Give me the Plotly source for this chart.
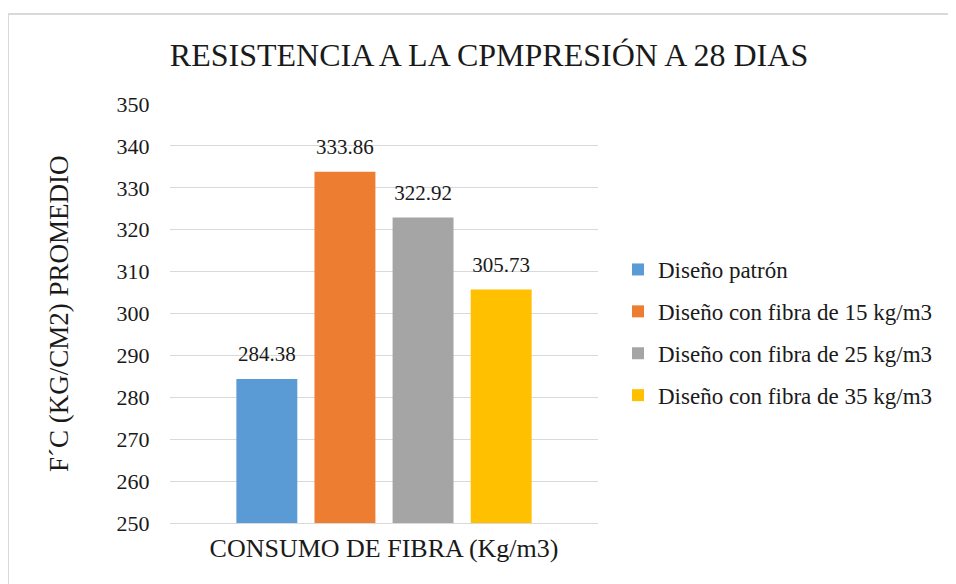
import plotly.graph_objects as go

category = ["CONSUMO DE FIBRA (Kg/m3)"]
series_names = [
    "Diseño patrón",
    "Diseño con fibra de 15 kg/m3",
    "Diseño con fibra de 25 kg/m3",
    "Diseño con fibra de 35 kg/m3",
]
series_values = [284.38, 333.86, 322.92, 305.73]
colors = ["#5B9BD5", "#ED7D31", "#A5A5A5", "#FFC000"]
y_ticks = [250, 260, 270, 280, 290, 300, 310, 320, 330, 340, 350]

FONT = "Liberation Serif"
TXT = "#1a1a1a"
OFF = 8  # page body margin

W, H = 956 - OFF, 584 - OFF
L, R, T, B = 170 - OFF, 956 - 598, 104 - OFF, 584 - 523
pw, ph = W - L - R, H - T - B

def px_x(x):
    return (x - OFF - L) / pw

def px_y(y):
    return 1 - (y - OFF - T) / ph

fig = go.Figure()
for i, (name, val, col) in enumerate(zip(series_names, series_values, colors)):
    fig.add_trace(go.Bar(
        x=category, y=[val - 250], base=250, name=name,
        marker=dict(color=col, line=dict(width=0)),
        offsetgroup=str(i), legendgroup=f"g{i}",
    ))
for i, val in enumerate(series_values):
    fig.add_trace(go.Scatter(
        x=category, y=[val], mode="markers+text", text=[f"{val:.2f}"],
        textposition="top center", cliponaxis=False,
        marker=dict(size=18, opacity=0),
        textfont=dict(family=FONT, size=21, color=TXT),
        offsetgroup=str(i), showlegend=False, hoverinfo="skip",
    ))

fig.update_layout(
    width=W, height=H,
    margin=dict(l=L, r=R, t=T, b=B, autoexpand=False),
    paper_bgcolor="white", plot_bgcolor="white",
    font=dict(family=FONT, color=TXT),
    barmode="group", bargap=0.27, bargroupgap=0.22,
    scattermode="group", scattergap=0.27,
    title=dict(text="RESISTENCIA A LA CPMPRESIÓN A 28 DIAS", x=(489 - OFF) / W, xanchor="center",
               y=1 - (55 - OFF) / H, yanchor="middle", xref="container", yref="container",
               font=dict(family=FONT, size=32, color=TXT)),
    legend=dict(x=px_x(618), y=px_y(248), xanchor="left", yanchor="top",
                font=dict(family=FONT, size=23, color=TXT),
                tracegroupgap=9, bgcolor="rgba(0,0,0,0)"),
    showlegend=True,
)
fig.update_yaxes(range=[250, 350], tickvals=y_ticks, showgrid=True, gridcolor="#d9d9d9",
                 gridwidth=1, zeroline=False, showline=False,
                 tickfont=dict(family=FONT, size=22, color=TXT),
                 ticks="outside", ticklen=15, tickcolor="rgba(0,0,0,0)")
fig.update_xaxes(showline=True, linecolor="#d9d9d9", linewidth=1, showgrid=False,
                 tickfont=dict(family=FONT, size=26, color=TXT),
                 ticks="outside", ticklen=2, tickcolor="rgba(0,0,0,0)")

fig.add_annotation(text="F´C (KG/CM2) PROMEDIO", textangle=-90, x=px_x(59), y=px_y(314),
                   xref="paper", yref="paper", showarrow=False, xanchor="center", yanchor="middle",
                   font=dict(family=FONT, size=27, color=TXT))

fig.add_shape(type="rect", xref="paper", yref="paper",
              x0=px_x(8), y0=px_y(600), x1=px_x(970), y1=px_y(14),
              line=dict(color="#d9d9d9", width=2), fillcolor="rgba(0,0,0,0)", layer="below")

fig.write_html("out.html")
